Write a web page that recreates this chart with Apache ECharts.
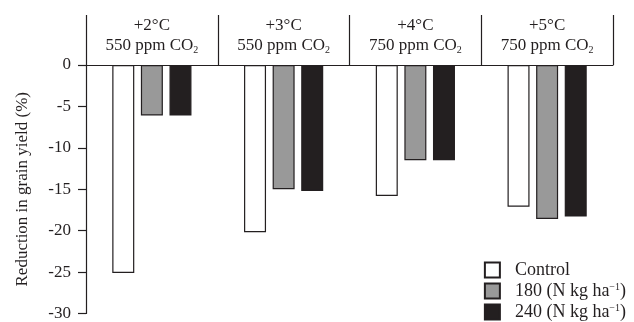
<!DOCTYPE html>
<html><head><meta charset="utf-8">
<script src="https://cdn.jsdelivr.net/npm/echarts@6/dist/echarts.min.js"></script>
<style>html,body{margin:0;padding:0;background:#fff}#c{width:634px;height:322px}</style>
</head><body><div id="c"></div>
<script>
const tempLabels = ['+2°C', '+3°C', '+4°C', '+5°C'];
const co2Labels = ['550', '550', '750', '750'];
const seriesNames = ['Control', '180', '240'];
const controlVals = [-25.1, -20.2, -15.8, -17.1];
const n180Vals = [-6.1, -15.0, -11.5, -18.6];
const n240Vals = [-6.1, -15.2, -11.5, -18.3];
const yTicks = { min: -30, max: 0, interval: 5 };

const FONT = '"Liberation Serif", "Times New Roman", serif';
const INK = '#231f20';
const FS = 17;
const categories = tempLabels.map((t, i) => t + '|' + co2Labels[i]);

const chart = echarts.init(document.getElementById('c'), null, { renderer: 'canvas' });
const mk = (name, data, fill, border) => ({
  name, type: 'bar', data, barWidth: 22, barGap: '30%',
  itemStyle: { color: fill, borderColor: border, borderWidth: 1.2 },
  emphasis: { disabled: true }
});
chart.setOption({
  animation: false,
  textStyle: { fontFamily: FONT },
  grid: { left: 86, right: 21, top: 65, bottom: 5, containLabel: false },
  xAxis: {
    type: 'category', position: 'top', data: categories,
    axisLine: { show: true, lineStyle: { color: INK, width: 1.2 } },
    axisTick: { show: true, length: 50, inside: false, alignWithLabel: false, lineStyle: { color: INK, width: 1.2 } },
    axisLabel: {
      margin: 9, interval: 0,
      formatter: v => { const p = v.split('|'); return '{t|' + p[0] + '}\n{t|' + p[1] + ' ppm CO}{sub|2}'; },
      rich: {
        t: { fontFamily: FONT, fontSize: FS, color: INK, lineHeight: 20 },
        sub: { fontFamily: FONT, fontSize: 10, color: INK, lineHeight: 20, verticalAlign: 'bottom', padding: [0, 0, 1, 0] }
      }
    },
    splitLine: { show: false }
  },
  yAxis: {
    type: 'value', min: yTicks.min, max: yTicks.max, interval: yTicks.interval,
    name: 'Reduction in grain yield (%)', nameLocation: 'middle', nameRotate: 90, nameGap: 55,
    nameTextStyle: { fontFamily: FONT, fontSize: FS, color: INK },
    axisLine: { show: true, lineStyle: { color: INK, width: 1.2 } },
    axisTick: { show: true, length: 8, lineStyle: { color: INK, width: 1.2 } },
    axisLabel: { margin: 15, fontFamily: FONT, fontSize: FS, color: INK },
    splitLine: { show: false }
  },
  legend: {
    orient: 'vertical', right: 3, bottom: -4, itemWidth: 15, itemHeight: 15, itemGap: 3,
    icon: 'rect',
    data: seriesNames.map(n => ({ name: n })),
    formatter: n => n === 'Control' ? '{t|Control}' : '{t|' + n + ' (N kg ha}{sup|−1}{t|)}',
    textStyle: {
      fontFamily: FONT, fontSize: 18, color: INK, padding: [0, 0, 0, 10],
      rich: {
        t: { fontFamily: FONT, fontSize: 18, color: INK, lineHeight: 18 },
        sup: { fontFamily: FONT, fontSize: 10, color: INK, lineHeight: 18, verticalAlign: 'top', padding: [0, 0, 4, 0] }
      }
    }
  },
  series: [
    mk('Control', controlVals, '#ffffff', INK),
    mk('180', n180Vals, '#999999', INK),
    mk('240', n240Vals, '#231f20', INK)
  ]
});
</script></body></html>
